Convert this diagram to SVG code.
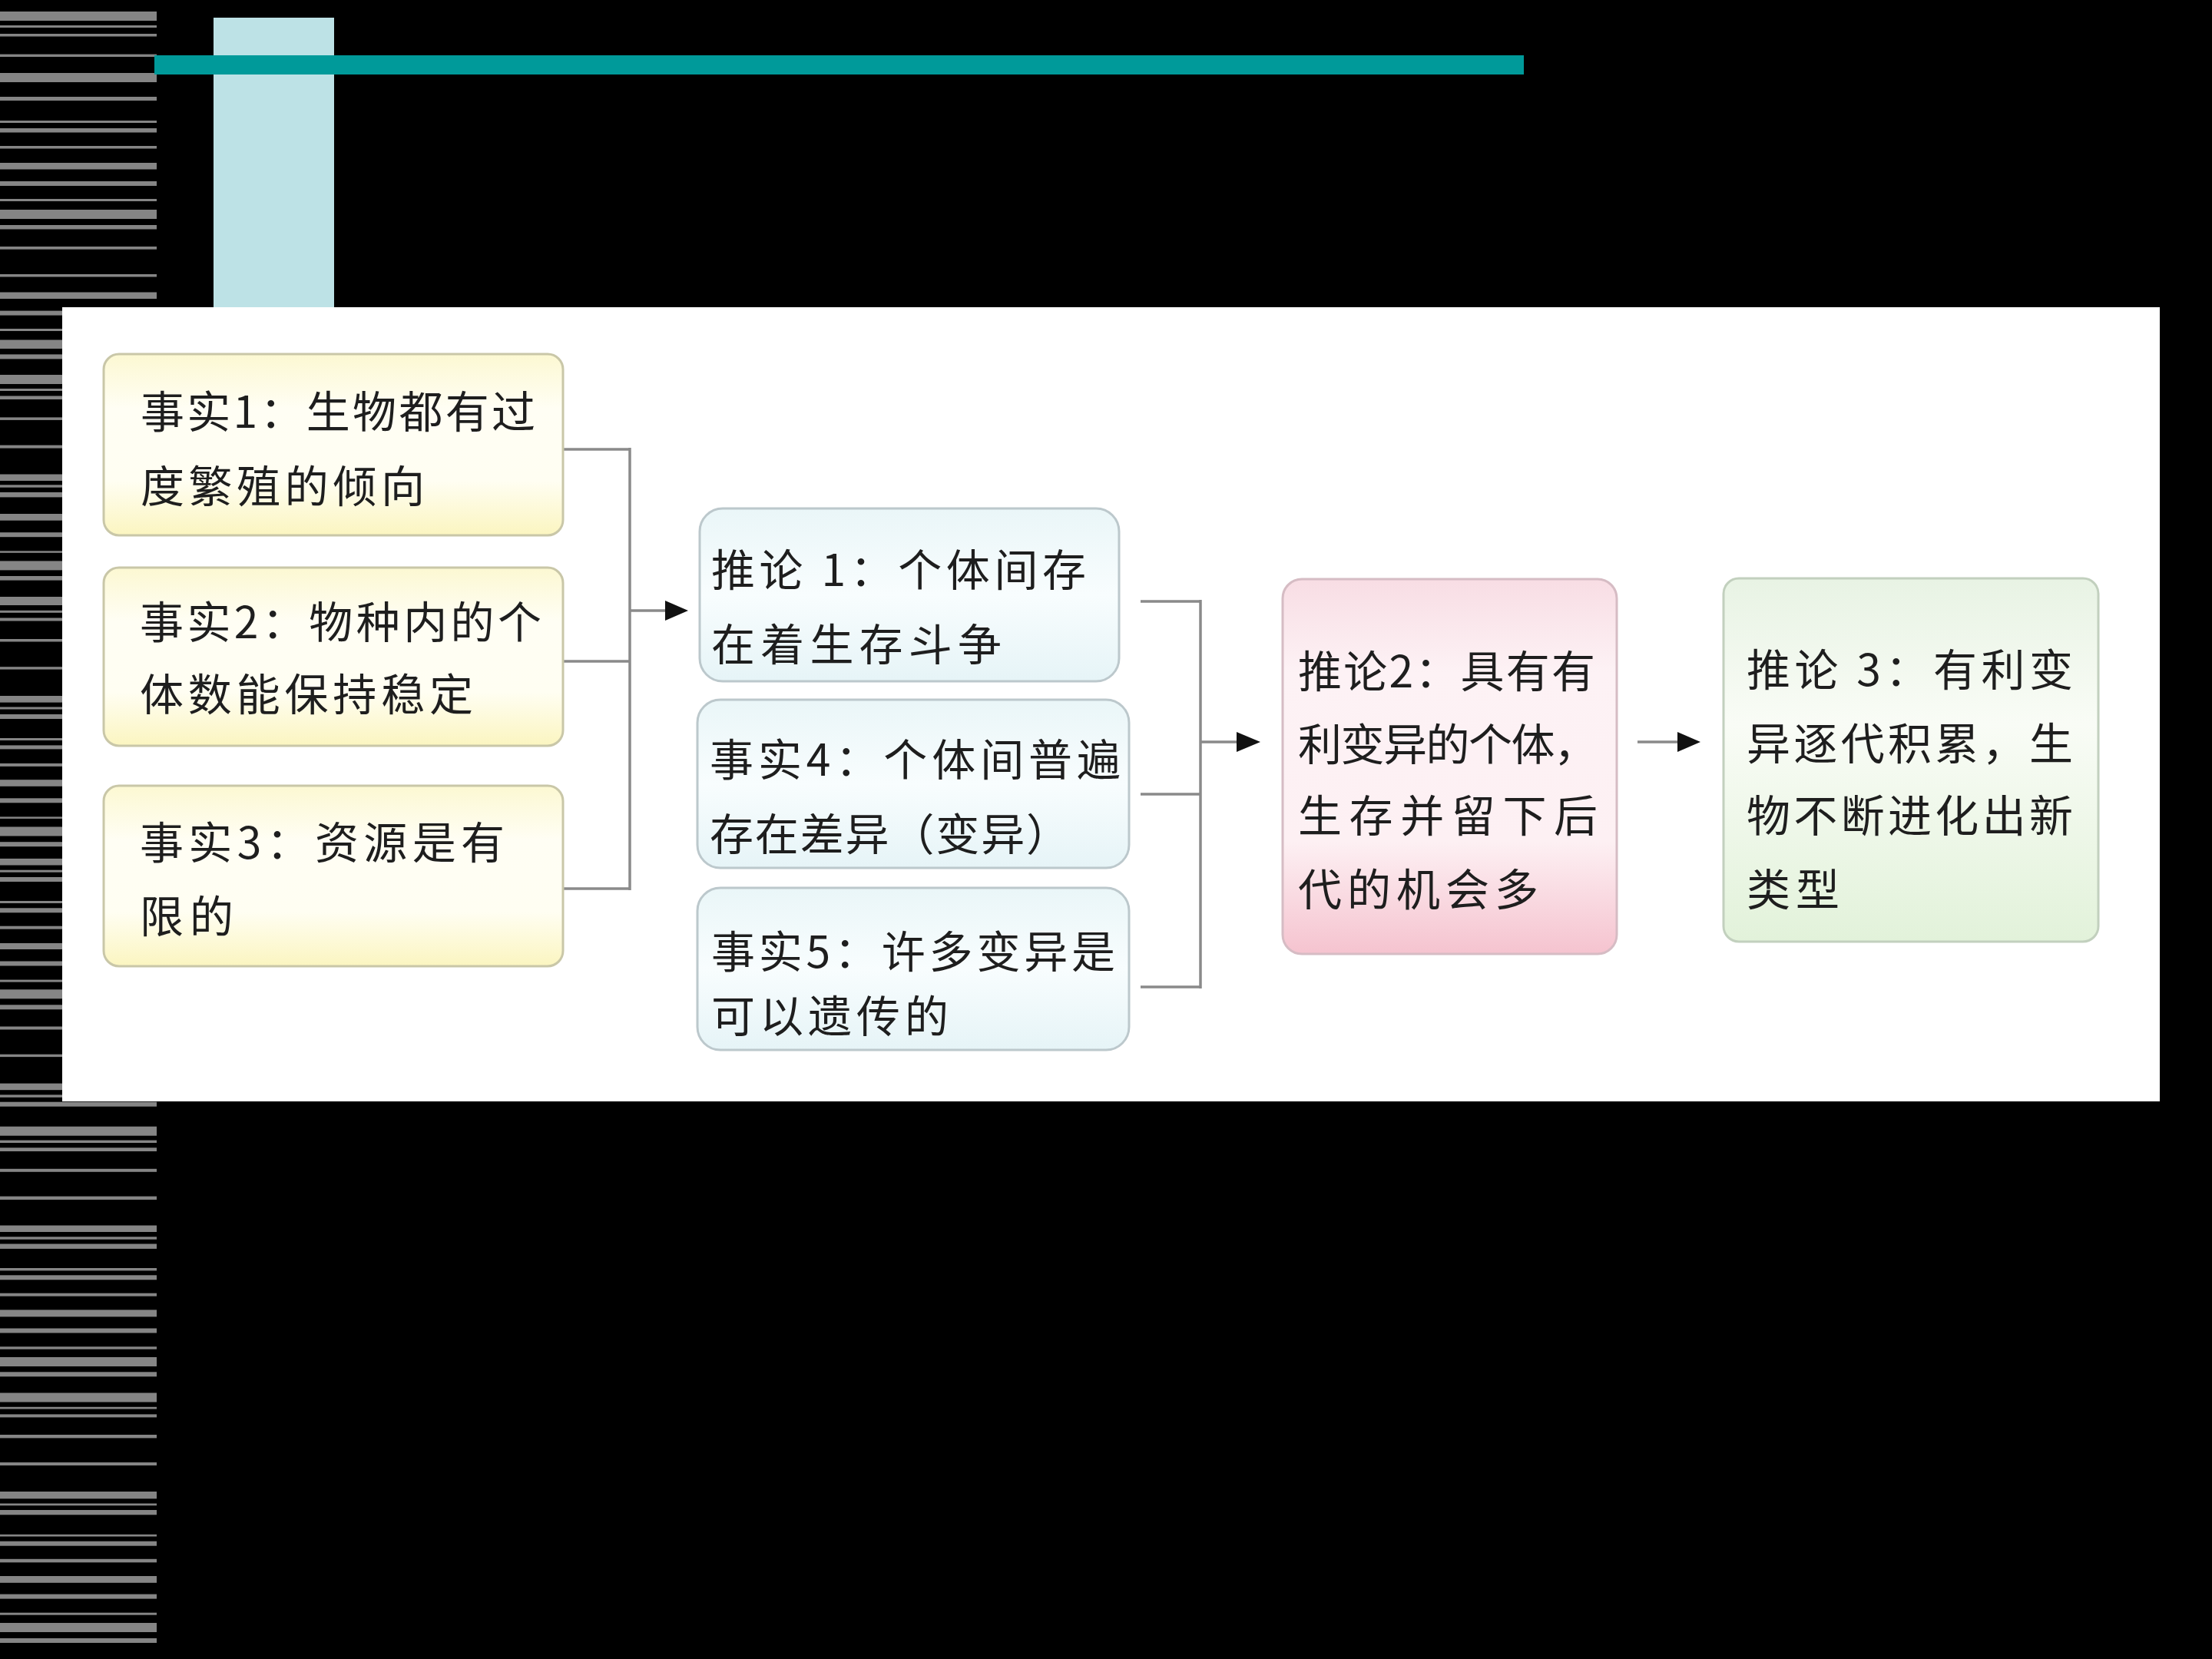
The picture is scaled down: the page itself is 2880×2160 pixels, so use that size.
<svg xmlns="http://www.w3.org/2000/svg" width="2880" height="2160" viewBox="0 0 2880 2160">
<style>
.st{fill:#858585}
.txt{font-family:"Noto Sans CJK SC","Noto Sans",sans-serif;font-size:57px;fill:#1e1e1e}
.ln{stroke:#8a8a8a;stroke-width:3.5;fill:none}
.head{fill:#111}
.yb{fill:url(#gy);stroke:#c9c7a8;stroke-width:3}
.cb{fill:url(#gc);stroke:#bcc8cc;stroke-width:3}
.pb{fill:url(#gp);stroke:#d6bcc4;stroke-width:3}
.gb{fill:url(#gg);stroke:#c2d0be;stroke-width:3}
</style>
<defs>
<linearGradient id="gy" x1="0" y1="0" x2="0" y2="1">
<stop offset="0" stop-color="#fcf8d2"/><stop offset="0.3" stop-color="#fffef4"/><stop offset="0.7" stop-color="#fffef2"/><stop offset="1" stop-color="#fbf5c0"/>
</linearGradient>
<linearGradient id="gc" x1="0" y1="0" x2="0" y2="1">
<stop offset="0" stop-color="#eaf6f8"/><stop offset="0.5" stop-color="#f8fdfe"/><stop offset="1" stop-color="#e6f4f7"/>
</linearGradient>
<linearGradient id="gp" x1="0" y1="0" x2="0" y2="1">
<stop offset="0" stop-color="#f8dde4"/><stop offset="0.25" stop-color="#fdf2f5"/><stop offset="0.7" stop-color="#fdf0f3"/><stop offset="1" stop-color="#f5c3cf"/>
</linearGradient>
<linearGradient id="gg" x1="0" y1="0" x2="0" y2="1">
<stop offset="0" stop-color="#e8f3e4"/><stop offset="0.4" stop-color="#f9fcf6"/><stop offset="1" stop-color="#e2f2da"/>
</linearGradient>
</defs>
<rect x="0" y="0" width="2880" height="2160" fill="#000"/>
<g id="stripes">
<rect class="st" x="0" y="15" width="204" height="12"/>
<rect class="st" x="0" y="33" width="204" height="3"/>
<rect class="st" x="0" y="44" width="204" height="3.5"/>
<rect class="st" x="0" y="70.6" width="204" height="3.4"/>
<rect class="st" x="0" y="95" width="204" height="12"/>
<rect class="st" x="0" y="126" width="204" height="5"/>
<rect class="st" x="0" y="157" width="204" height="3"/>
<rect class="st" x="0" y="167" width="204" height="5.5"/>
<rect class="st" x="0" y="190" width="204" height="3.5"/>
<rect class="st" x="0" y="212" width="204" height="8.5"/>
<rect class="st" x="0" y="236" width="204" height="6"/>
<rect class="st" x="0" y="259" width="204" height="3"/>
<rect class="st" x="0" y="273" width="204" height="12"/>
<rect class="st" x="0" y="293" width="204" height="5.5"/>
<rect class="st" x="0" y="321" width="204" height="3.7"/>
<rect class="st" x="0" y="357" width="204" height="3.5"/>
<rect class="st" x="0" y="380.5" width="204" height="8.5"/>
<rect class="st" x="0" y="404.6" width="204" height="6"/>
<rect class="st" x="0" y="428" width="204" height="3"/>
<rect class="st" x="0" y="442.5" width="204" height="11.5"/>
<rect class="st" x="0" y="461.4" width="204" height="6"/>
<rect class="st" x="0" y="488" width="204" height="12"/>
<rect class="st" x="0" y="506" width="204" height="3"/>
<rect class="st" x="0" y="515.5" width="204" height="4.5"/>
<rect class="st" x="0" y="543.4" width="204" height="3.5"/>
<rect class="st" x="0" y="579.6" width="204" height="4"/>
<rect class="st" x="0" y="617.5" width="204" height="8.5"/>
<rect class="st" x="0" y="631.3" width="204" height="3.4"/>
<rect class="st" x="0" y="640.9" width="204" height="6.5"/>
<rect class="st" x="0" y="669" width="204" height="8.7"/>
<rect class="st" x="0" y="693.2" width="204" height="6"/>
<rect class="st" x="0" y="717.3" width="204" height="2.5"/>
<rect class="st" x="0" y="730.4" width="204" height="12"/>
<rect class="st" x="0" y="750" width="204" height="5.6"/>
<rect class="st" x="0" y="777" width="204" height="11"/>
<rect class="st" x="0" y="794.8" width="204" height="3"/>
<rect class="st" x="0" y="804.5" width="204" height="4"/>
<rect class="st" x="0" y="832" width="204" height="3.5"/>
<rect class="st" x="0" y="868.2" width="204" height="3.4"/>
<rect class="st" x="0" y="906" width="204" height="8.6"/>
<rect class="st" x="0" y="920.5" width="204" height="3"/>
<rect class="st" x="0" y="930" width="204" height="6"/>
<rect class="st" x="0" y="961" width="204" height="3"/>
<rect class="st" x="0" y="970.4" width="204" height="5"/>
<rect class="st" x="0" y="993.9" width="204" height="4"/>
<rect class="st" x="0" y="1015.2" width="204" height="8.6"/>
<rect class="st" x="0" y="1039.3" width="204" height="6"/>
<rect class="st" x="0" y="1063.4" width="204" height="2.5"/>
<rect class="st" x="0" y="1076.5" width="204" height="12"/>
<rect class="st" x="0" y="1096.2" width="204" height="6"/>
<rect class="st" x="0" y="1117.9" width="204" height="8.6"/>
<rect class="st" x="0" y="1132.7" width="204" height="3"/>
<rect class="st" x="0" y="1142" width="204" height="6"/>
<rect class="st" x="0" y="1173" width="204" height="3"/>
<rect class="st" x="0" y="1182.3" width="204" height="6"/>
<rect class="st" x="0" y="1205.7" width="204" height="4"/>
<rect class="st" x="0" y="1228" width="204" height="8"/>
<rect class="st" x="0" y="1251.5" width="204" height="6"/>
<rect class="st" x="0" y="1275.6" width="204" height="3"/>
<rect class="st" x="0" y="1288.3" width="204" height="12"/>
<rect class="st" x="0" y="1308.3" width="204" height="6"/>
<rect class="st" x="0" y="1336.5" width="204" height="4"/>
<rect class="st" x="0" y="1372.7" width="204" height="3.4"/>
<rect class="st" x="0" y="1410.6" width="204" height="8.6"/>
<rect class="st" x="0" y="1425.4" width="204" height="3.4"/>
<rect class="st" x="0" y="1434.7" width="204" height="6"/>
<rect class="st" x="0" y="1466.7" width="204" height="12"/>
<rect class="st" x="0" y="1484.6" width="204" height="3.4"/>
<rect class="st" x="0" y="1494.3" width="204" height="4.7"/>
<rect class="st" x="0" y="1521.8" width="204" height="4"/>
<rect class="st" x="0" y="1557.6" width="204" height="4.4"/>
<rect class="st" x="0" y="1595.5" width="204" height="8.5"/>
<rect class="st" x="0" y="1610.3" width="204" height="3.4"/>
<rect class="st" x="0" y="1619.5" width="204" height="6.4"/>
<rect class="st" x="0" y="1651" width="204" height="3.4"/>
<rect class="st" x="0" y="1660.3" width="204" height="6"/>
<rect class="st" x="0" y="1683.7" width="204" height="4"/>
<rect class="st" x="0" y="1705.4" width="204" height="9"/>
<rect class="st" x="0" y="1729.5" width="204" height="6"/>
<rect class="st" x="0" y="1753.3" width="204" height="3.4"/>
<rect class="st" x="0" y="1767" width="204" height="12"/>
<rect class="st" x="0" y="1786.3" width="204" height="6"/>
<rect class="st" x="0" y="1813.5" width="204" height="12"/>
<rect class="st" x="0" y="1831.8" width="204" height="2.7"/>
<rect class="st" x="0" y="1841.4" width="204" height="4"/>
<rect class="st" x="0" y="1868" width="204" height="4.4"/>
<rect class="st" x="0" y="1904" width="204" height="4"/>
<rect class="st" x="0" y="1942" width="204" height="9.3"/>
<rect class="st" x="0" y="1957.5" width="204" height="2.7"/>
<rect class="st" x="0" y="1966" width="204" height="6.3"/>
<rect class="st" x="0" y="1997.8" width="204" height="2.7"/>
<rect class="st" x="0" y="2006.7" width="204" height="6"/>
<rect class="st" x="0" y="2029.8" width="204" height="4.5"/>
<rect class="st" x="0" y="2052" width="204" height="8.8"/>
<rect class="st" x="0" y="2075.6" width="204" height="6"/>
<rect class="st" x="0" y="2099.7" width="204" height="3"/>
<rect class="st" x="0" y="2113" width="204" height="12"/>
<rect class="st" x="0" y="2133" width="204" height="6"/>
</g>
<rect id="cyan-bar" x="278" y="23" width="157" height="377" fill="#bde2e6"/>
<rect id="teal-bar" x="201" y="72" width="1783" height="25" fill="#009a9a"/>
<rect id="panel" x="81" y="400" width="2731" height="1034" fill="#fff"/>

<g id="connectors">
<path class="ln" d="M733,585 H820 M733,861 H820 M733,1157 H820 M820,583 V1159 M820,795 H868"/>
<polygon class="head" points="866,782 896,795 866,808"/>
<path class="ln" d="M1485,783 H1563 M1485,1034 H1563 M1485,1285 H1563 M1563,781 V1287 M1563,966 H1612"/>
<polygon class="head" points="1610,953 1641,966 1610,979"/>
<path class="ln" d="M2132,966 H2186"/>
<polygon class="head" points="2184,953 2214,966 2184,979"/>
</g>

<g id="fact1">
<rect class="yb" x="135" y="461" width="598" height="236" rx="20"/>
<text class="txt" x="183" y="557" textLength="514" lengthAdjust="spacing">事实1：生物都有过</text>
<text class="txt" x="183" y="654" textLength="370" lengthAdjust="spacing">度繁殖的倾向</text>
</g>
<g id="fact2">
<rect class="yb" x="135" y="739" width="598" height="232" rx="20"/>
<text class="txt" x="182" y="831" textLength="523" lengthAdjust="spacing">事实2：物种内的个</text>
<text class="txt" x="182" y="925" textLength="434" lengthAdjust="spacing">体数能保持稳定</text>
</g>
<g id="fact3">
<rect class="yb" x="135" y="1023" width="598" height="235" rx="20"/>
<text class="txt" x="182" y="1118" textLength="475" lengthAdjust="spacing">事实3：资源是有</text>
<text class="txt" x="182" y="1214" textLength="122" lengthAdjust="spacing">限的</text>
</g>
<g id="inference1">
<rect class="cb" x="911" y="662" width="546" height="225" rx="30"/>
<text class="txt" x="926" y="763" textLength="488" lengthAdjust="spacing">推论 1：个体间存</text>
<text class="txt" x="926" y="860" textLength="378" lengthAdjust="spacing">在着生存斗争</text>
</g>
<g id="fact4">
<rect class="cb" x="908" y="911" width="562" height="219" rx="30"/>
<text class="txt" x="924" y="1010" textLength="535" lengthAdjust="spacing">事实4：个体间普遍</text>
<text class="txt" x="924" y="1107" textLength="469" lengthAdjust="spacing">存在差异（变异）</text>
</g>
<g id="fact5">
<rect class="cb" x="908" y="1156" width="562" height="211" rx="30"/>
<text class="txt" x="926" y="1260" textLength="526" lengthAdjust="spacing">事实5：许多变异是</text>
<text class="txt" x="926" y="1344" textLength="309" lengthAdjust="spacing">可以遗传的</text>
</g>
<g id="inference2">
<rect class="pb" x="1670" y="754" width="435" height="488" rx="25"/>
<text class="txt" x="1690" y="895" textLength="387" lengthAdjust="spacing">推论2：具有有</text>
<text class="txt" x="1690" y="990" textLength="390" lengthAdjust="spacing">利变异的个体，</text>
<text class="txt" x="1690" y="1083" textLength="390" lengthAdjust="spacing">生存并留下后</text>
<text class="txt" x="1690" y="1179" textLength="313" lengthAdjust="spacing">代的机会多</text>
</g>
<g id="inference3">
<rect class="gb" x="2244" y="753" width="488" height="473" rx="20"/>
<text class="txt" x="2274" y="893" textLength="425" lengthAdjust="spacing">推论 3：有利变</text>
<text class="txt" x="2274" y="989" textLength="425" lengthAdjust="spacing">异逐代积累，生</text>
<text class="txt" x="2274" y="1083" textLength="425" lengthAdjust="spacing">物不断进化出新</text>
<text class="txt" x="2274" y="1179" textLength="121" lengthAdjust="spacing">类型</text>
</g>
</svg>
